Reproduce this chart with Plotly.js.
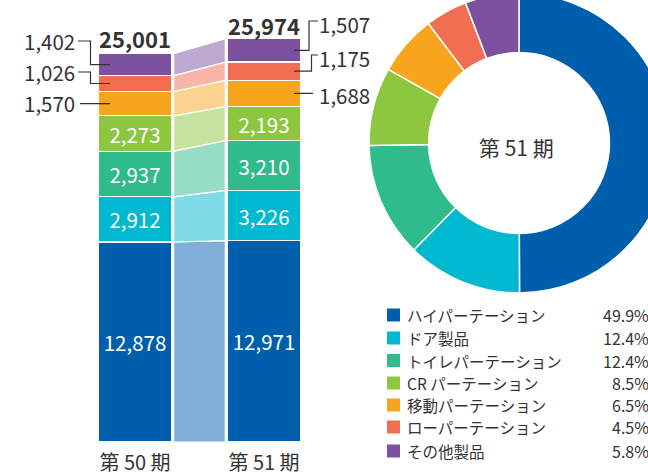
<!DOCTYPE html>
<html><head><meta charset="utf-8">
<script src="https://cdn.plot.ly/plotly-3.0.1.min.js"></script>
<style>html,body{margin:0;padding:0;overflow:hidden;background:#fff;width:648px;height:473px}
#chart{width:700px;height:493px;margin-top:-20px}</style>
</head><body><div id="chart"></div>
<script>
// ---- data ----
const categories = ['第 50 期', '第 51 期'];
const seriesNames = ['ハイパーテーション','ドア製品','トイレパーテーション','CR パーテーション','移動パーテーション','ローパーテーション','その他製品'];
const period50 = [12878, 2912, 2937, 2273, 1570, 1026, 1402];
const period51 = [12971, 3226, 3210, 2193, 1688, 1175, 1507];
const totals = [25001, 25974];
const shareLabels = ['49.9%','12.4%','12.4%','8.5%','6.5%','4.5%','5.8%'];
const donutTitle = '第 51 期';
const unitNote = '（単位：百万円）';
const colors = ['#005fad','#00b8cf','#2fbb8b','#8dc63f','#f7a51d','#f26e52','#7b51a0'];
const tints  = ['#7fafd6','#80dbe6','#97ddc5','#c6e29f','#fbd28e','#f8b6a8','#bda8cf'];

// ---- layout geometry ----
const W = 700, H = 493, OFFY = 20;
const px = x => x / W;
const py = y => 1 - (y + OFFY) / H;
const FONT = '"Noto Sans CJK JP", "Noto Sans", sans-serif';
const TXT = '#333333';
const yScale = 0.01553; // px per unit
const yMax = 28000;
const pxToY = p => (442 - p) / yScale;
const xToData = p => (p - 135) / 129;

const cum = arr => { const out=[0]; arr.forEach(v=>out.push(out[out.length-1]+v)); return out; };
const c50 = cum(period50), c51 = cum(period51);

const traces = [];
// bars
seriesNames.forEach((name,i)=>{
  const inside = i < 4;
  traces.push({
    type:'bar', x:[0,1], y:[period50[i], period51[i]], width:0.574,
    marker:{color:colors[i], line:{color:'#ffffff', width:1.2}},
    text: inside ? [period50[i], period51[i]].map(v=>v.toLocaleString('en-US')) : ['',''],
    textposition:'inside', insidetextanchor:'middle', constraintext:'none',
    textfont:{family:FONT, size:20.5, color:'#ffffff'},
    hoverinfo:'none', showlegend:false, xaxis:'x', yaxis:'y'
  });
});
// connectors
seriesNames.forEach((name,i)=>{
  traces.push({
    type:'scatter', mode:'lines', x:[0.30,0.70,0.70,0.30,0.30],
    y:[c50[i], c51[i], c51[i+1], c50[i+1], c50[i]],
    fill:'toself', fillcolor:tints[i], line:{color:'#ffffff', width:1.2},
    hoverinfo:'none', showlegend:false, xaxis:'x', yaxis:'y'
  });
});
// donut
traces.push({
  type:'pie', values:period51, labels:seriesNames, hole:0.603, sort:false, direction:'clockwise', rotation:0,
  marker:{colors:colors, line:{color:'#ffffff', width:1.5}}, textinfo:'none', hoverinfo:'none', showlegend:false,
  domain:{x:[px(369), px(669)], y:[py(293), py(-7)]}
});

const annotations = [];
const shapes = [];
// totals
annotations.push({xref:'x', yref:'paper', x:0, y:py(38), text:'<b>'+totals[0].toLocaleString('en-US')+'</b>', showarrow:false,
  font:{family:FONT, size:22, color:TXT}, xanchor:'center', yanchor:'middle'});
annotations.push({xref:'x', yref:'paper', x:1, y:py(25), text:'<b>'+totals[1].toLocaleString('en-US')+'</b>', showarrow:false,
  font:{family:FONT, size:22, color:TXT}, xanchor:'center', yanchor:'middle'});

// outside labels bar 1 (left)
const leftLabelY = [103, 72, 41];   // px, for series 4,5,6
[4,5,6].forEach((si,k)=>{
  const mid = (c50[si]+c50[si+1])/2;
  const ly = pxToY(leftLabelY[k]);
  annotations.push({xref:'x', yref:'y', x:xToData(77), y:ly, text:period50[si].toLocaleString('en-US'), showarrow:false,
    font:{family:FONT, size:20.5, color:TXT}, xanchor:'right', yanchor:'middle'});
  const path = (si===4) ? `M ${xToData(80)} ${mid} L ${xToData(110)} ${mid}`
    : `M ${xToData(78)} ${ly} L ${xToData(90.5)} ${ly} L ${xToData(90.5)} ${mid} L ${xToData(110)} ${mid}`;
  shapes.push({type:'path', xref:'x', yref:'y', path:path, line:{color:TXT, width:1.2}});
});
// outside labels bar 2 (right)
const rightLabelY = [95, 58, 24];
const hookX = [null, 311.5, 309];
[4,5,6].forEach((si,k)=>{
  const mid = (c51[si]+c51[si+1])/2;
  const ly = pxToY(rightLabelY[k]);
  annotations.push({xref:'x', yref:'y', x:xToData(317), y:ly, text:period51[si].toLocaleString('en-US'), showarrow:false,
    font:{family:FONT, size:20.5, color:TXT}, xanchor:'left', yanchor:'middle'});
  const hy = pxToY(rightLabelY[k]-3);
  const path = (si===4) ? `M ${xToData(294)} ${mid} L ${xToData(313)} ${mid}`
    : `M ${xToData(294)} ${mid} L ${xToData(hookX[k])} ${mid} L ${xToData(hookX[k])} ${hy} L ${xToData(318)} ${hy}`;
  shapes.push({type:'path', xref:'x', yref:'y', path:path, line:{color:TXT, width:1.2}});
});

// unit note (mostly cut at top, as in the reference)
annotations.push({xref:'paper', yref:'paper', x:px(22), y:py(3), text:unitNote, showarrow:false,
  font:{family:FONT, size:15, color:'#999999'}, xanchor:'left', yanchor:'bottom'});

// donut center
annotations.push({xref:'paper', yref:'paper', x:px(516), y:py(147), text:donutTitle, showarrow:false,
  font:{family:FONT, size:21, color:TXT}, xanchor:'center', yanchor:'middle'});

// legend
const legendY = [315, 338, 360.5, 383, 405, 427, 451];
seriesNames.forEach((name,i)=>{
  const cy = legendY[i];
  shapes.push({type:'rect', xref:'paper', yref:'paper', x0:px(387), x1:px(400), y0:py(cy+6.5), y1:py(cy-6.5),
    fillcolor:colors[i], line:{width:0}});
  annotations.push({xref:'paper', yref:'paper', x:px(406), y:py(cy), text:name, showarrow:false, borderpad:0,
    font:{family:FONT, size:15.5, color:TXT}, xanchor:'left', yanchor:'middle'});
  annotations.push({xref:'paper', yref:'paper', x:px(650), y:py(cy), text:shareLabels[i], showarrow:false, borderpad:0,
    font:{family:FONT, size:16, color:TXT}, xanchor:'right', yanchor:'middle'});
});

const layout = {
  width:W, height:H, margin:{l:0,r:0,t:0,b:0}, paper_bgcolor:'#ffffff', plot_bgcolor:'rgba(0,0,0,0)',
  barmode:'stack', showlegend:false,
  xaxis:{domain:[px(70.5), px(328.5)], range:[-0.5,1.5], showgrid:false, zeroline:false, showline:false,
    tickvals:[0,1], ticktext:categories, ticks:'', ticklabelstandoff:7,
    tickfont:{family:FONT, size:20, color:TXT}, fixedrange:true},
  yaxis:{domain:[py(442), py(442 - yMax*yScale)], range:[0,yMax], visible:false, fixedrange:true},
  annotations:annotations, shapes:shapes,
  font:{family:FONT}
};
Plotly.newPlot('chart', traces, layout, {staticPlot:true, displayModeBar:false});
</script></body></html>
